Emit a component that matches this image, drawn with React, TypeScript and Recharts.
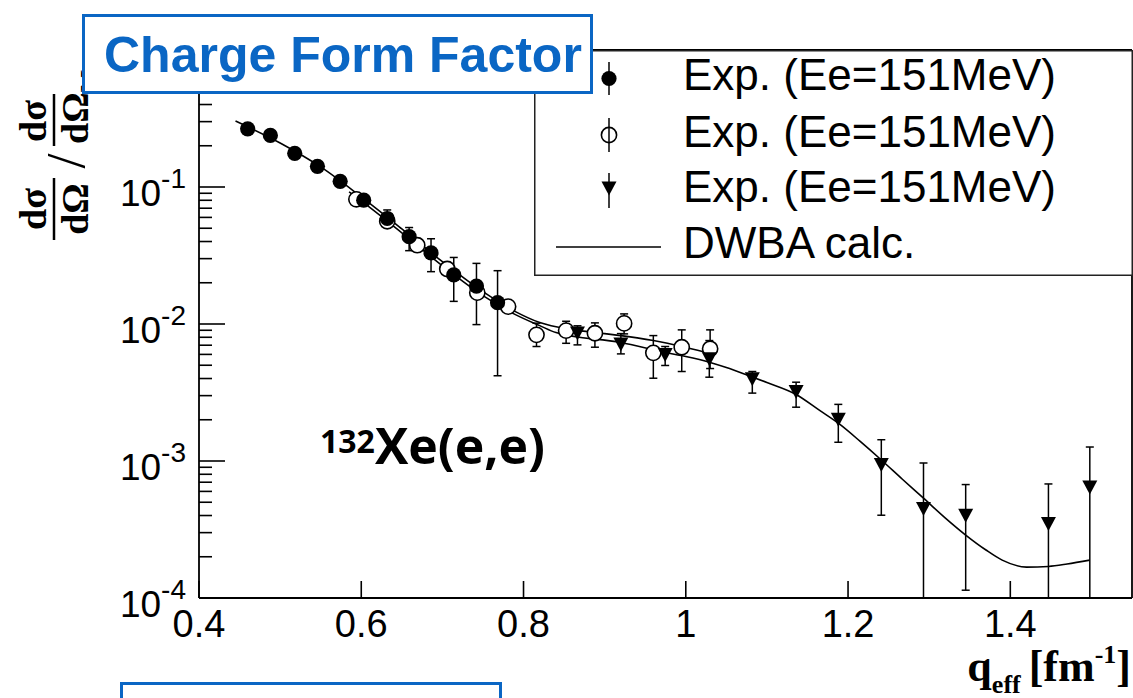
import React from 'react';
import { ComposedChart, XAxis, YAxis, Scatter, Line, ErrorBar, ReferenceLine, Legend } from 'recharts';

// ---- data ----
const filledX = [0.46, 0.488, 0.518, 0.546, 0.574, 0.603, 0.632, 0.659, 0.686, 0.714, 0.742, 0.768];
const filledY = [0.266, 0.238, 0.176, 0.1415, 0.11, 0.0802, 0.0589, 0.0434, 0.033, 0.0228, 0.0189, 0.0143];
const filledLo = [0.266, 0.238, 0.176, 0.1415, 0.11, 0.0802, 0.051, 0.0343, 0.0241, 0.01463, 0.0099, 0.00419];
const filledHi = [0.266, 0.238, 0.176, 0.1415, 0.11, 0.0802, 0.068, 0.0506, 0.0419, 0.0306, 0.0277, 0.0245];

const openX = [0.594, 0.632, 0.669, 0.706, 0.743, 0.781, 0.816, 0.8525, 0.888, 0.924, 0.96, 0.995, 1.03];
const openY = [0.0813, 0.0562, 0.0376, 0.0252, 0.01693, 0.0134, 0.00833, 0.00895, 0.00856, 0.0101, 0.00616, 0.00677, 0.00659];
const openLo = [0.0813, 0.0562, 0.0376, 0.0252, 0.01693, 0.0134, 0.00685, 0.00723, 0.00677, 0.00847, 0.00402, 0.0045, 0.00473];
const openHi = [0.0813, 0.0562, 0.0376, 0.0252, 0.01693, 0.0134, 0.01014, 0.01047, 0.01019, 0.01185, 0.00823, 0.00906, 0.00906];

const triX = [0.8665, 0.92, 0.9746, 1.029, 1.082, 1.136, 1.188, 1.241, 1.293, 1.345, 1.447, 1.498];
const triY = [0.00861, 0.00716, 0.00598, 0.00557, 0.00398, 0.00322, 0.00202, 0.000942, 0.00045, 0.000402, 0.00035, 0.000647];
const triLo = [0.00704, 0.00605, 0.00498, 0.00409, 0.00313, 0.00247, 0.00137, 0.000402, 0.0001, 0.000114, 0.0001, 0.0001];
const triHi = [0.0097, 0.00851, 0.00685, 0.00757, 0.0045, 0.00376, 0.00259, 0.00143, 0.000967, 0.000673, 0.00068, 0.001265];

const curveAX = [0.445, 0.5, 0.55, 0.6, 0.65, 0.7, 0.75, 0.79, 0.82, 0.86, 0.9, 0.96, 1.0, 1.035];
const curveAY = [0.303, 0.2096, 0.1401, 0.0847, 0.0495, 0.0285, 0.01722, 0.01231, 0.01024, 0.0091, 0.00851, 0.00757, 0.00673, 0.00598];

const curveBX = [0.585, 0.6, 0.65, 0.7, 0.75, 0.79, 0.82, 0.84, 0.92, 0.975, 1.0, 1.03, 1.05, 1.08, 1.1, 1.136, 1.165, 1.19, 1.215, 1.24, 1.267, 1.293, 1.32, 1.345, 1.37, 1.39, 1.42, 1.447, 1.47, 1.498];
const curveBY = [0.0921, 0.0792, 0.0463, 0.0266, 0.0161, 0.01171, 0.00973, 0.00866, 0.00732, 0.00619, 0.00579, 0.00524, 0.00481, 0.00414, 0.00374, 0.00306, 0.00234, 0.00185, 0.00139, 0.00103, 0.000736, 0.000535, 0.000383, 0.000288, 0.000224, 0.000189, 0.000168, 0.00017, 0.000177, 0.000189];

const xTicks = [0.4, 0.6, 0.8, 1, 1.2, 1.4];
const xTickLabels = ['0.4', '0.6', '0.8', '1', '1.2', '1.4'];
const yTicks = [
  0.0001, 0.0002, 0.0003, 0.0004, 0.0005, 0.0006, 0.0007, 0.0008, 0.0009,
  0.001, 0.002, 0.003, 0.004, 0.005, 0.006, 0.007, 0.008, 0.009,
  0.01, 0.02, 0.03, 0.04, 0.05, 0.06, 0.07, 0.08, 0.09,
  0.1, 0.2, 0.3, 0.4, 0.5, 0.6, 0.7, 0.8, 0.9, 1,
];
const yDecades = [0.0001, 0.001, 0.01, 0.1];
const yDecadeExp = ['-4', '-3', '-2', '-1'];
const legendLabels = ['Exp. (Ee=151MeV)', 'Exp. (Ee=151MeV)', 'Exp. (Ee=151MeV)', 'DWBA calc.'];
const titleText = 'Charge Form Factor';

const BLUE = '#0a66c4';

const buildPoints = (xs: number[], ys: number[], lo: number[], hi: number[]) =>
  xs.map((x, i) => ({ x, y: ys[i], err: [ys[i] - lo[i], hi[i] - ys[i]] }));
const buildCurve = (xs: number[], ys: number[]) => xs.map((x, i) => ({ x, y: ys[i] }));

const filledData = buildPoints(filledX, filledY, filledLo, filledHi);
const openData = buildPoints(openX, openY, openLo, openHi);
const triData = buildPoints(triX, triY, triLo, triHi);
const curveA = buildCurve(curveAX, curveAY);
const curveB = buildCurve(curveBX, curveBY);

const FilledCircle = (p: any) => <circle cx={p.cx} cy={p.cy} r={7.6} fill="#000" />;
const OpenCircle = (p: any) => (
  <circle cx={p.cx} cy={p.cy} r={7.6} fill="#fff" stroke="#000" strokeWidth={1.6} />
);
const TriDown = (p: any) => (
  <path d={`M${p.cx - 7.5},${p.cy - 6.5}L${p.cx + 7.5},${p.cy - 6.5}L${p.cx},${p.cy + 7.5}Z`} fill="#000" />
);

const renderXTick = (props: any) => {
  const { x, y, payload } = props;
  return (
    <g>
      <line x1={x} x2={x} y1={y} y2={y - 17} stroke="#000" strokeWidth={1.6} />
      <text x={x} y={y + 39} textAnchor="middle" fontFamily="Liberation Sans, Arial, sans-serif" fontSize={38} fill="#000">
        {xTickLabels[xTicks.indexOf(payload.value)] ?? String(payload.value)}
      </text>
    </g>
  );
};

const renderYTick = (props: any) => {
  const { x, y, payload } = props;
  const idx = yDecades.indexOf(payload.value);
  const major = idx >= 0 || payload.value === 1;
  return (
    <g>
      <line x1={x} x2={x + (major ? 26 : 13)} y1={y} y2={y} stroke="#000" strokeWidth={1.6} />
      {idx >= 0 && (
        <text x={x - 13} y={y + 18.5} textAnchor="end" fontFamily="Liberation Sans, Arial, sans-serif" fontSize={37} fill="#000">
          10<tspan fontSize={28} dy={-17.5}>{yDecadeExp[idx]}</tspan>
        </text>
      )}
    </g>
  );
};

const YTitle = () => (
  <g transform="translate(54,240) rotate(-90)" fontFamily="Liberation Serif, Times New Roman, serif" fontWeight="bold" fill="#000">
    <text x={31} y={-8} fontSize={38} textAnchor="middle">dσ</text>
    <line x1={0} x2={62} y1={0} y2={0} stroke="#000" strokeWidth={2.5} />
    <text x={31} y={34} fontSize={38} textAnchor="middle">dΩ</text>
    <text x={79} y={30} fontSize={54} textAnchor="middle" fontWeight="normal">/</text>
    <text x={119} y={-8} fontSize={38} textAnchor="middle">dσ</text>
    <line x1={94} x2={146} y1={0} y2={0} stroke="#000" strokeWidth={2.5} />
    <text x={96} y={34} fontSize={38}>dΩ<tspan fontSize={24} dy={8}>M</tspan></text>
  </g>
);

const XTitle = () => (
  <text x={1131} y={681} textAnchor="end" fontFamily="Liberation Serif, Times New Roman, serif" fontWeight="bold" fontSize={44} fill="#000">
    q<tspan fontSize={26} dy={12}>eff</tspan>
    <tspan dx={8} dy={-12}>[fm</tspan>
    <tspan fontSize={26} dy={-18}>-1</tspan>
    <tspan dy={18}>]</tspan>
  </text>
);

const renderLegend = () => (
  <svg width={600} height={227} style={{ display: 'block' }}>
    <rect x={0.75} y={0.75} width={597.5} height={224.5} fill="#fff" stroke="#222" strokeWidth={1.5} />
    <line x1={75} x2={75} y1={12} y2={45} stroke="#000" strokeWidth={1.5} />
    <circle cx={75} cy={28.5} r={7.6} fill="#000" />
    <line x1={75} x2={75} y1={68} y2={102} stroke="#000" strokeWidth={1.5} />
    <circle cx={75} cy={85} r={7.6} fill="none" stroke="#000" strokeWidth={1.6} />
    <line x1={75} x2={75} y1={123} y2={158} stroke="#000" strokeWidth={1.5} />
    <path d="M67.5,131.5L82.5,131.5L75,145.5Z" fill="#000" />
    <line x1={22} x2={127} y1={197} y2={197} stroke="#000" strokeWidth={1.6} />
    {legendLabels.map((t, i) => (
      <text key={i} x={149} y={[40, 97, 152, 208][i]} fontFamily="Liberation Sans, Arial, sans-serif" fontSize={44} fill="#000">
        {t}
      </text>
    ))}
  </svg>
);

export default function App() {
  return (
    <div style={{ position: 'absolute', left: 0, top: 0, width: 1133, height: 698, overflow: 'hidden', background: '#fff' }}>
      <ComposedChart width={1133} height={698} margin={{ top: 50, right: 1, bottom: 99, left: 198 }}>
        <XAxis
          dataKey="x"
          type="number"
          domain={[0.4, 1.55]}
          allowDataOverflow
          ticks={xTicks}
          interval={0}
          tickLine={false}
          tickSize={0}
          tickMargin={0}
          height={1}
          axisLine={{ stroke: '#000', strokeWidth: 1.8 }}
          tick={renderXTick}
          label={<XTitle />}
        />
        <YAxis
          dataKey="y"
          type="number"
          scale="log"
          domain={[0.0001, 1]}
          allowDataOverflow
          ticks={yTicks}
          interval={0}
          tickLine={false}
          tickSize={0}
          tickMargin={0}
          width={1}
          axisLine={{ stroke: '#000', strokeWidth: 1.8 }}
          tick={renderYTick}
          label={<YTitle />}
        />
        <ReferenceLine x={1.55} stroke="#000" strokeWidth={1.8} ifOverflow="visible" />
        <ReferenceLine y={1} stroke="#000" strokeWidth={1.8} ifOverflow="visible" />
        <Scatter name="open" data={openData} shape={OpenCircle} isAnimationActive={false}>
          <ErrorBar dataKey="err" direction="y" width={4} stroke="#000" strokeWidth={1.5} isAnimationActive={false} />
        </Scatter>
        <Scatter name="filled" data={filledData} shape={FilledCircle} isAnimationActive={false}>
          <ErrorBar dataKey="err" direction="y" width={4} stroke="#000" strokeWidth={1.5} isAnimationActive={false} />
        </Scatter>
        <Scatter name="tri" data={triData} shape={TriDown} isAnimationActive={false}>
          <ErrorBar dataKey="err" direction="y" width={4} stroke="#000" strokeWidth={1.5} isAnimationActive={false} />
        </Scatter>
        <Line data={curveA} dataKey="y" type="monotone" stroke="#000" strokeWidth={1.6} dot={false} isAnimationActive={false} />
        <Line data={curveB} dataKey="y" type="monotone" stroke="#000" strokeWidth={1.6} dot={false} isAnimationActive={false} />
        <Legend
          layout="vertical"
          align="center"
          verticalAlign="middle"
          content={renderLegend}
          wrapperStyle={{ left: 534, top: 50, width: 600, height: 227, margin: 0, padding: 0 }}
        />
      </ComposedChart>
      <svg width={1133} height={698} style={{ position: 'absolute', left: 0, top: 0, pointerEvents: 'none' }}>
        <rect x={83.5} y={15.5} width={508} height={77} fill="#fff" stroke={BLUE} strokeWidth={3} />
        <text x={104} y={72} fontFamily="Liberation Sans, Arial, sans-serif" fontWeight="bold" fontSize={50} fill={BLUE}>
          {titleText}
        </text>
        <rect x={121.5} y={683.5} width={379} height={40} fill="#fff" stroke={BLUE} strokeWidth={3} />
        <text x={320} y={464} fontFamily="Open Sans, sans-serif" fontWeight={700} fill="#000">
          <tspan fontSize={32} dy={-11}>132</tspan>
          <tspan fontSize={50} dy={11}>Xe(e,e)</tspan>
        </text>
      </svg>
    </div>
  );
}
